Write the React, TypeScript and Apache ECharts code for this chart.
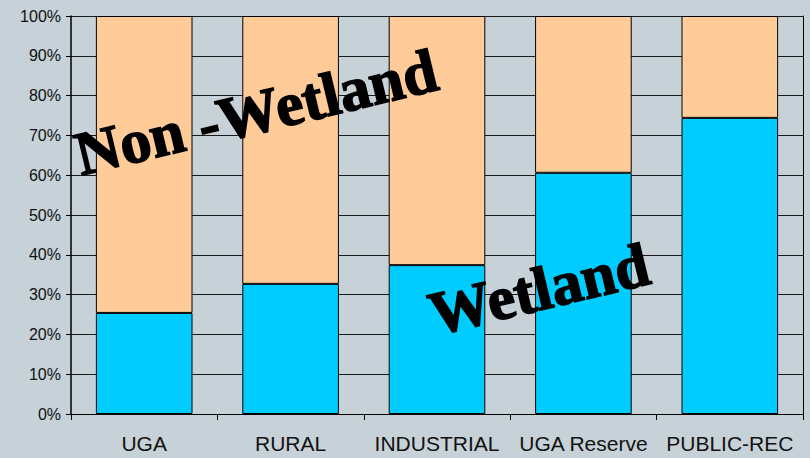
import React, { useEffect, useRef } from "react";
import * as echarts from "echarts";

const categories = ["UGA", "RURAL", "INDUSTRIAL", "UGA Reserve", "PUBLIC-REC"];
const wetland = [25.4, 32.7, 37.4, 60.6, 74.4];
const nonWetland = wetland.map((v) => +(100 - v).toFixed(1));
const yTicks = { min: 0, max: 100, interval: 10 };

export default function App() {
  const ref = useRef<HTMLDivElement>(null);
  useEffect(() => {
    document.body.style.margin = "0";
    const chart = echarts.init(ref.current!, null, { renderer: "svg" });
    const rot = (13.5 * Math.PI) / 180;
    const annStyle = {
      fontSize: 62,
      fontWeight: "bold",
      fontFamily: "Liberation Serif, Times New Roman, serif",
      fill: "#000",
      stroke: "#000",
      lineWidth: 1.5,
      textAlign: "center",
      textVerticalAlign: "middle",
    };
    chart.setOption({
      animation: false,
      backgroundColor: "#C7D1D8",
      grid: { left: 71, right: 7, top: 16, bottom: 44 },
      xAxis: {
        type: "category",
        data: categories,
        axisLine: { lineStyle: { color: "#000", width: 1 } },
        axisTick: { show: true, length: 6, lineStyle: { color: "#000" } },
        axisLabel: {
          color: "#111",
          fontSize: 21,
          fontFamily: "Liberation Sans, Arial, sans-serif",
          margin: 19,
          interval: 0,
        },
      },
      yAxis: [
        {
          type: "value",
          min: yTicks.min,
          max: yTicks.max,
          interval: yTicks.interval,
          axisLine: { show: true, lineStyle: { color: "#000", width: 1.5 } },
          axisTick: { show: true, length: 5, lineStyle: { color: "#000" } },
          splitLine: { show: true, lineStyle: { color: "#1a1a1a", width: 1 } },
          axisLabel: {
            formatter: "{value}%",
            color: "#111",
            fontSize: 16,
            fontFamily: "Liberation Sans, Arial, sans-serif",
            margin: 10,
          },
        },
        {
          type: "value",
          position: "right",
          min: yTicks.min,
          max: yTicks.max,
          interval: yTicks.interval,
          axisLine: { show: true, lineStyle: { color: "#000", width: 1 } },
          axisTick: { show: false },
          axisLabel: { show: false },
          splitLine: { show: false },
        },
      ],
      series: [
        {
          name: "Wetland",
          type: "bar",
          stack: "total",
          data: wetland,
          barCategoryGap: "34%",
          itemStyle: { color: "#00CCFF", borderColor: "#000", borderWidth: 1 },
        },
        {
          name: "Non-Wetland",
          type: "bar",
          stack: "total",
          data: nonWetland,
          barCategoryGap: "34%",
          itemStyle: { color: "#FFCC99", borderColor: "#000", borderWidth: 1 },
        },
      ],
      graphic: [
        {
          type: "text",
          x: 256,
          y: 112,
          rotation: rot,
          z: 100,
          style: { ...annStyle, text: "Non -Wetland" },
        },
        {
          type: "text",
          x: 539,
          y: 289,
          rotation: rot,
          z: 100,
          style: { ...annStyle, text: "Wetland" },
        },
      ],
    });
    return () => chart.dispose();
  }, []);
  return <div ref={ref} style={{ width: 810, height: 458 }} />;
}
